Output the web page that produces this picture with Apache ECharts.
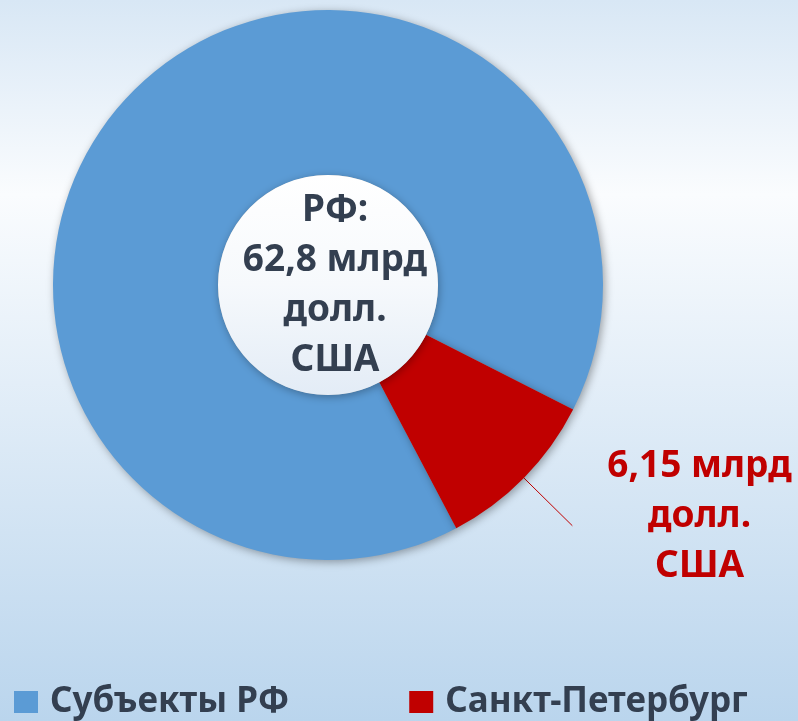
<!DOCTYPE html>
<html>
<head>
<meta charset="utf-8">
<script src="https://cdn.jsdelivr.net/npm/echarts@6/dist/echarts.min.js"></script>
<style>
  html, body { margin: 0; padding: 0; }
  #chart { width: 798px; height: 721px; }
</style>
</head>
<body>
<div id="chart"></div>
<script>
// data (billion USD)
const names = ["Субъекты РФ", "Санкт-Петербург"];
const values = [56.65, 6.15];
const colors = ["#5b9bd5", "#c00000"];
const totalText = ["РФ:", "62,8 млрд", "долл.", "США"];
const spbText = ["6,15 млрд", "долл.", "США"];

const chart = echarts.init(document.getElementById("chart"));

const font = "Noto Sans";

chart.setOption({
  backgroundColor: new echarts.graphic.LinearGradient(0, 0, 0, 1, [
    { offset: 0, color: "#d8e7f5" },
    { offset: 0.27, color: "#fafcfe" },
    { offset: 1, color: "#bad5ed" }
  ]),
  legend: {
    left: 9,
    top: 679,
    icon: "rect",
    itemWidth: 24,
    itemHeight: 22,
    itemGap: 120,
    textStyle: { fontFamily: font, fontSize: 35, lineHeight: 36, fontWeight: "bold", color: "#333f50", padding: [0, 0, 0, 7] },
    data: names
  },
  series: [
    {
      type: "pie",
      center: [328, 285],
      radius: [110, 275],
      startAngle: -62.2,
      clockwise: true,
      avoidLabelOverlap: false,
      itemStyle: { shadowBlur: 8, shadowColor: "rgba(0,0,0,0.35)", shadowOffsetX: 2, shadowOffsetY: 2 },
      emphasis: { disabled: true },
      data: names.map((n, i) => ({
        name: n,
        value: values[i],
        itemStyle: { color: colors[i] },
        label: i === 1 ? {
          show: true,
          position: "outside",
          distanceToLabelLine: 35,
          padding: [0, 0, 18, 0],
          formatter: spbText.map(t => "{a|" + t + "}").join("\n"),
          rich: {
            a: { fontFamily: font, fontSize: 37, fontWeight: "bold", color: "#c00000", lineHeight: 50, align: "center" }
          }
        } : { show: false },
        labelLine: i === 1 ? {
          show: true,
          length: 68,
          length2: 0,
          lineStyle: { color: "#c00000", width: 1 }
        } : { show: false }
      }))
    },
    {
      type: "pie",
      silent: true,
      center: [328, 285],
      radius: [0, 110],
      legendHoverLink: false,
      itemStyle: {
        color: new echarts.graphic.LinearGradient(0, 0, 0, 1, [
          { offset: 0, color: "#ffffff" },
          { offset: 0.5, color: "#f6f9fc" },
          { offset: 1, color: "#e3ecf6" }
        ]),
        shadowBlur: 8,
        shadowColor: "rgba(0,0,0,0.3)",
        shadowOffsetX: 1,
        shadowOffsetY: 2
      },
      label: {
        show: true,
        position: "center",
        formatter: totalText.join("\n"),
        fontFamily: font,
        fontSize: 37,
        fontWeight: "bold",
        color: "#333f50",
        lineHeight: 50,
        padding: [10, 0, 0, 14]
      },
      labelLine: { show: false },
      data: [{ name: "total", value: 1 }]
    }
  ]
});
</script>
</body>
</html>
